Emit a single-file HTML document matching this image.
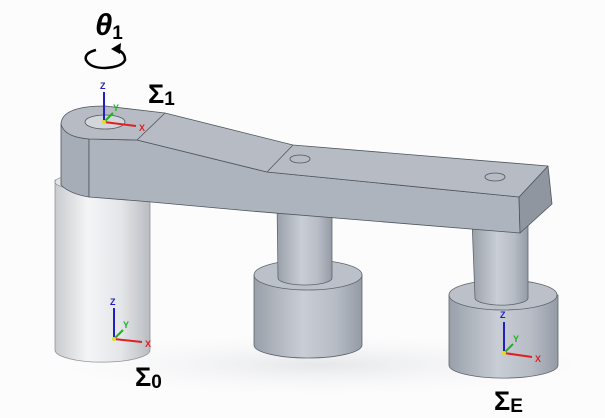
<!DOCTYPE html>
<html><head><meta charset="utf-8"><style>
html,body{margin:0;padding:0;background:#fff;}
svg{display:block;}
text{font-family:"Liberation Sans","DejaVu Sans",sans-serif;}
</style></head><body>
<svg width="605" height="418" viewBox="0 0 605 418">
<defs>
<linearGradient id="cylW" x1="0" x2="1"><stop offset="0" stop-color="#c9cbce"/><stop offset="0.35" stop-color="#f4f5f7"/><stop offset="0.7" stop-color="#e3e5e8"/><stop offset="1" stop-color="#b9bcc1"/></linearGradient>
<linearGradient id="cylG" x1="0" x2="1"><stop offset="0" stop-color="#9aa0a9"/><stop offset="0.45" stop-color="#c9ced6"/><stop offset="0.75" stop-color="#b7bcc5"/><stop offset="1" stop-color="#959ba5"/></linearGradient>
<radialGradient id="shad" cx="0.5" cy="0.5" r="0.5"><stop offset="0" stop-color="#e6e7e9"/><stop offset="1" stop-color="#f8f8f9" stop-opacity="0"/></radialGradient>
</defs>
<rect width="605" height="418" fill="#fcfcfd"/>
<ellipse cx="320" cy="365" rx="280" ry="32" fill="url(#shad)"/>

<g>
<path d="M55,180 L55,350 A47,12 0 0 0 150,350 L150,180 Z" fill="url(#cylW)" stroke="#8e939a" stroke-width="0.8"/>
<ellipse cx="102" cy="182" rx="47" ry="9" fill="#e4e5e7" stroke="#8e939a" stroke-width="0.8"/>
</g>

<g>
<path d="M254,275 L254,345 A54,13 0 0 0 362,345 L362,275 Z" fill="url(#cylG)" stroke="#5e646d" stroke-width="0.8"/>
<ellipse cx="308" cy="275" rx="54" ry="15" fill="#bcc1c9" stroke="#5e646d" stroke-width="0.8"/>
<path d="M277,200 L278,278 A27,7 0 0 0 332,278 L332,200 Z" fill="url(#cylG)" stroke="#5e646d" stroke-width="0.8"/>
</g>

<g>
<path d="M449,295 L449,365 A54,13 0 0 0 558,365 L558,295 Z" fill="url(#cylG)" stroke="#5e646d" stroke-width="0.8"/>
<ellipse cx="503" cy="295" rx="54" ry="15" fill="#bcc1c9" stroke="#5e646d" stroke-width="0.8"/>
<path d="M472,220 L475,298 A26,7 0 0 0 528,298 L528,220 Z" fill="url(#cylG)" stroke="#5e646d" stroke-width="0.8"/>
</g>

<g stroke="#4f555e" stroke-width="0.8" stroke-linejoin="round">
<path d="M61,124 L61,185 Q70,194 89,197 L89,139 Q70,136 61,124 Z" fill="#a7adb6"/>
<path d="M89,139 L137,140 L267,172 L519,197 L520,233 L250,211 L140,201 L89,197 Z" fill="#aeb4bd"/>
<path d="M519,197 L548,166 L552,204 L520,233 Z" fill="#8f96a0"/>
<path d="M61,124 Q62,106 105,106 L165,113 L293,145 L548,166 L519,197 L267,172 L137,140 L89,139 Q64,137 61,124 Z" fill="#b7bcc4"/>
<line x1="165" y1="113" x2="137" y2="140"/>
<line x1="293" y1="145" x2="267" y2="172"/>
<ellipse cx="105" cy="122" rx="20" ry="7" fill="#d3d6da"/>
<ellipse cx="300" cy="159" rx="10" ry="4" fill="none"/>
<ellipse cx="495" cy="177" rx="10" ry="4" fill="none"/>
</g>

<g font-size="9" font-weight="bold">
<line x1="104" y1="122" x2="104" y2="92" stroke="#2020c0" stroke-width="2"/>
<text x="100" y="89" fill="#2020c0">Z</text>
<line x1="104" y1="122" x2="136" y2="126" stroke="#e02020" stroke-width="2"/>
<text x="139" y="131" fill="#e02020">X</text>
<line x1="104" y1="122" x2="113" y2="113" stroke="#20b020" stroke-width="2"/>
<text x="113" y="111" fill="#20b020">Y</text>
<circle cx="104" cy="122" r="2" fill="#e0e020"/>
</g>
<g font-size="9" font-weight="bold">
<line x1="114" y1="339" x2="114" y2="308" stroke="#2020c0" stroke-width="2"/>
<text x="110" y="305" fill="#2020c0">Z</text>
<line x1="114" y1="339" x2="142" y2="342" stroke="#e02020" stroke-width="2"/>
<text x="145" y="347" fill="#e02020">X</text>
<line x1="114" y1="339" x2="123" y2="330" stroke="#20b020" stroke-width="2"/>
<text x="123" y="328" fill="#20b020">Y</text>
<circle cx="114" cy="339" r="2" fill="#e0e020"/>
</g>
<g font-size="9" font-weight="bold">
<line x1="504" y1="353" x2="504" y2="322" stroke="#2020c0" stroke-width="2"/>
<text x="500" y="318" fill="#2020c0">Z</text>
<line x1="504" y1="353" x2="532" y2="357" stroke="#e02020" stroke-width="2"/>
<text x="535" y="362" fill="#e02020">X</text>
<line x1="504" y1="353" x2="513" y2="344" stroke="#20b020" stroke-width="2"/>
<text x="513" y="342" fill="#20b020">Y</text>
<circle cx="504" cy="353" r="2" fill="#e0e020"/>
</g>

<text x="95" y="35" font-family="Liberation Serif,serif" font-style="italic" font-weight="bold" font-size="31" fill="#000">θ<tspan font-size="19" dy="4" font-style="normal" font-family="Liberation Sans,sans-serif">1</tspan></text>
<path d="M96,50 Q84,53 86,60 Q90,68 105,68 Q122,67 125,60 Q125,52 117,50" fill="none" stroke="#000" stroke-width="2.5"/>
<path d="M111,49 L121,43 L120,54 Z" fill="#000"/>
<text x="148" y="103" font-weight="bold" font-size="27" fill="#000">Σ<tspan font-size="19" dy="2">1</tspan></text>
<text x="135" y="386" font-weight="bold" font-size="27" fill="#000">Σ<tspan font-size="19" dy="2">0</tspan></text>
<text x="494" y="410" font-weight="bold" font-size="27" fill="#000">Σ<tspan font-size="19" dy="2">E</tspan></text>
</svg>
</body></html>
